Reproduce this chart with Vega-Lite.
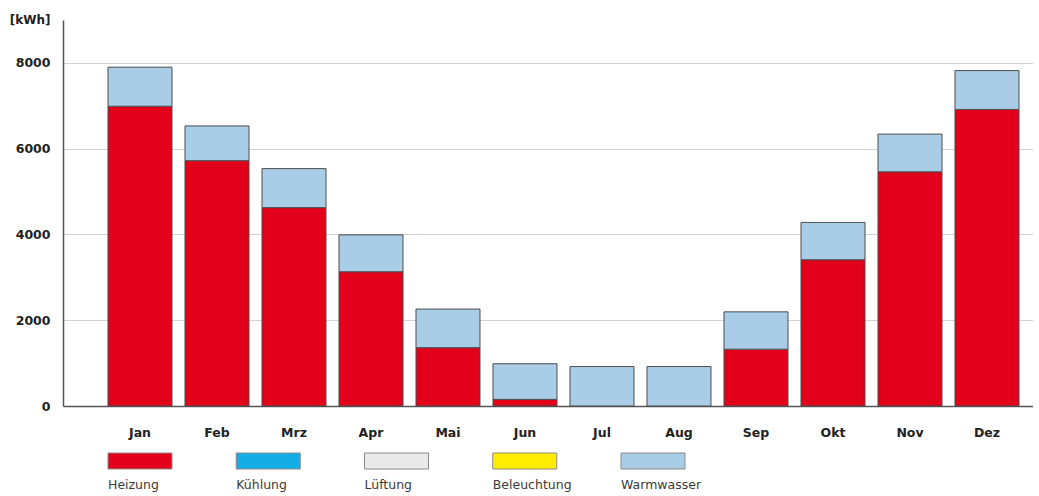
{
  "$schema": "https://vega.github.io/schema/vega-lite/v6.json",
  "padding": {"left": 9, "top": 13, "right": 0, "bottom": 0},
  "background": "white",
  "config": {"view": {"stroke": null}, "font": "DejaVu Sans"},
  "datasets": {
    "energy": [
      {"Monat": "Jan", "Kategorie": "Heizung", "kWh": 6990},
      {"Monat": "Jan", "Kategorie": "Warmwasser", "kWh": 910},
      {"Monat": "Feb", "Kategorie": "Heizung", "kWh": 5720},
      {"Monat": "Feb", "Kategorie": "Warmwasser", "kWh": 810},
      {"Monat": "Mrz", "Kategorie": "Heizung", "kWh": 4625},
      {"Monat": "Mrz", "Kategorie": "Warmwasser", "kWh": 910},
      {"Monat": "Apr", "Kategorie": "Heizung", "kWh": 3130},
      {"Monat": "Apr", "Kategorie": "Warmwasser", "kWh": 860},
      {"Monat": "Mai", "Kategorie": "Heizung", "kWh": 1360},
      {"Monat": "Mai", "Kategorie": "Warmwasser", "kWh": 900},
      {"Monat": "Jun", "Kategorie": "Heizung", "kWh": 155},
      {"Monat": "Jun", "Kategorie": "Warmwasser", "kWh": 830},
      {"Monat": "Jul", "Kategorie": "Heizung", "kWh": 0},
      {"Monat": "Jul", "Kategorie": "Warmwasser", "kWh": 920},
      {"Monat": "Aug", "Kategorie": "Heizung", "kWh": 0},
      {"Monat": "Aug", "Kategorie": "Warmwasser", "kWh": 920},
      {"Monat": "Sep", "Kategorie": "Heizung", "kWh": 1325},
      {"Monat": "Sep", "Kategorie": "Warmwasser", "kWh": 870},
      {"Monat": "Okt", "Kategorie": "Heizung", "kWh": 3410},
      {"Monat": "Okt", "Kategorie": "Warmwasser", "kWh": 870},
      {"Monat": "Nov", "Kategorie": "Heizung", "kWh": 5460},
      {"Monat": "Nov", "Kategorie": "Warmwasser", "kWh": 880},
      {"Monat": "Dez", "Kategorie": "Heizung", "kWh": 6915},
      {"Monat": "Dez", "Kategorie": "Warmwasser", "kWh": 905}
    ],
    "legende": [
      {"Kategorie": "Heizung"},
      {"Kategorie": "Kühlung"},
      {"Kategorie": "Lüftung"},
      {"Kategorie": "Beleuchtung"},
      {"Kategorie": "Warmwasser"}
    ]
  },
  "bounds": "flush",
  "spacing": 47,
  "resolve": {"scale": {"x": "independent", "color": "shared"}},
  "vconcat": [
    {
      "width": 970,
      "height": 386,
      "data": {"name": "energy"},
      "mark": {"type": "bar", "stroke": "#4d4d4d", "strokeWidth": 1},
      "encoding": {
        "x": {
          "field": "Monat", "type": "nominal",
          "sort": ["Jan", "Feb", "Mrz", "Apr", "Mai", "Jun", "Jul", "Aug", "Sep", "Okt", "Nov", "Dez"],
          "scale": {"paddingInner": 0.1688, "paddingOuter": 0.3831, "align": 0.7627},
          "axis": {
            "title": null, "labelAngle": 0, "ticks": false, "tickSize": 0, "labelPadding": 20,
            "labelFontWeight": "bold", "labelFontSize": 12.5, "labelColor": "#222222",
            "domainColor": "#555555", "domainWidth": 1.5, "grid": false
          }
        },
        "y": {
          "field": "kWh", "type": "quantitative", "stack": "zero",
          "scale": {"domain": [0, 9000], "nice": false},
          "axis": {
            "values": [0, 2000, 4000, 6000, 8000], "format": "d",
            "ticks": false, "tickSize": 0, "labelPadding": 13,
            "labelFontWeight": "bold", "labelFontSize": 12.5, "labelColor": "#222222",
            "domainColor": "#555555", "domainWidth": 1.5,
            "grid": true, "gridColor": "#d2d2d2", "gridWidth": 1,
            "title": "[kWh]", "titleAngle": 0, "titleAlign": "right", "titleBaseline": "middle",
            "titleX": -13, "titleY": -1, "titleFontSize": 12, "titleFontWeight": "bold", "titleColor": "#222222"
          }
        },
        "color": {
          "field": "Kategorie", "type": "nominal",
          "scale": {
            "domain": ["Heizung", "Kühlung", "Lüftung", "Beleuchtung", "Warmwasser"],
            "range": ["#e2001a", "#15ade8", "#e9e9e9", "#ffec00", "#a9cde6"]
          },
          "legend": null
        },
        "order": {"field": "Kategorie", "sort": "ascending"}
      }
    },
    {
      "width": 833.5,
      "height": 16,
      "data": {"name": "legende"},
      "encoding": {
        "x": {
          "field": "Kategorie", "type": "nominal", "sort": null,
          "scale": {"paddingInner": 0.501, "paddingOuter": 1, "align": 0.1754},
          "axis": null
        }
      },
      "layer": [
        {
          "mark": {"type": "bar", "stroke": "#8a8a8a", "strokeWidth": 1},
          "encoding": {
            "color": {
              "field": "Kategorie", "type": "nominal",
              "scale": {
                "domain": ["Heizung", "Kühlung", "Lüftung", "Beleuchtung", "Warmwasser"],
                "range": ["#e2001a", "#15ade8", "#e9e9e9", "#ffec00", "#a9cde6"]
              },
              "legend": null
            }
          }
        },
        {
          "mark": {"type": "text", "align": "left", "baseline": "middle", "dy": 24, "fontSize": 12.5, "color": "#3a3a3a"},
          "encoding": {
            "x": {"field": "Kategorie", "type": "nominal", "sort": null, "bandPosition": 0},
            "text": {"field": "Kategorie"}
          }
        }
      ]
    }
  ]
}
